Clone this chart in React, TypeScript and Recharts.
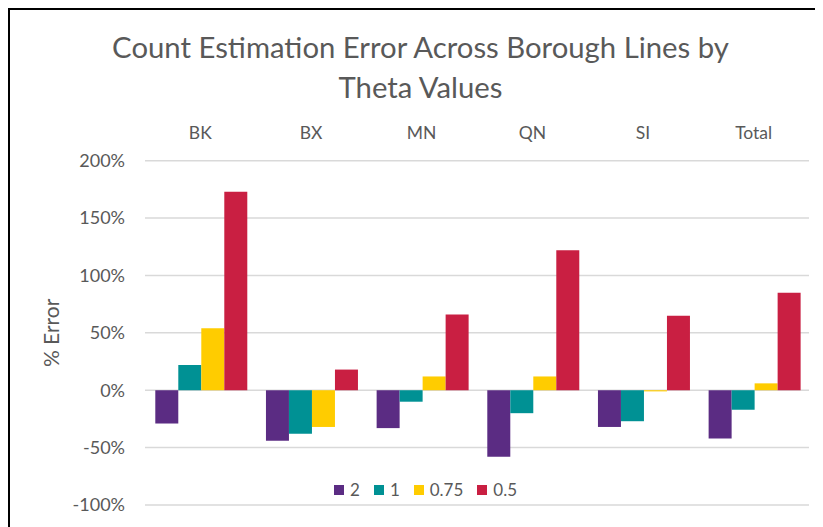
import React from 'react';
import { BarChart, Bar, XAxis, YAxis, CartesianGrid, Legend } from 'recharts';

const categories = ['BK', 'BX', 'MN', 'QN', 'SI', 'Total'];
const theta2 = [-29, -44, -33, -58, -32, -42];
const theta1 = [22, -38, -10, -20, -27, -17];
const theta075 = [54, -32, 12, 12, -1, 6];
const theta05 = [173, 18, 66, 122, 65, 85];
const yTicks = [-100, -50, 0, 50, 100, 150, 200];
const seriesKeys = ['t2', 't1', 't075', 't05'];
const seriesNames = ['2', '1', '0.75', '0.5'];
const seriesColors = ['#5B2C83', '#009194', '#FFCC00', '#C91F42'];

const data = categories.map((c, i) => ({
  name: c,
  t2: theta2[i],
  t1: theta1[i],
  t075: theta075[i],
  t05: theta05[i],
}));

const FONT = "Lato, 'Open Sans', sans-serif";
const TXT = '#595959';

const LegendContent = () => (
  <div style={{ display: 'flex', alignItems: 'center', fontFamily: FONT, fontSize: 17, color: TXT }}>
    {seriesNames.map((n, i) => (
      <div key={n} style={{ display: 'flex', alignItems: 'center', marginRight: 14 }}>
        <div style={{ width: 10, height: 10, background: seriesColors[i], marginRight: 6 }} />
        <span>{n}</span>
      </div>
    ))}
  </div>
);

export default function App() {
  return (
    <div style={{ position: 'relative', width: 815, height: 519, background: '#fff', fontFamily: FONT }}>
      <div style={{ position: 'absolute', left: 0, top: 0, width: 815, height: 2, background: '#000' }} />
      <div style={{ position: 'absolute', left: 0, top: 0, width: 2, height: 519, background: '#000' }} />
      <div
        style={{
          position: 'absolute',
          left: 5,
          top: 19,
          width: 815,
          textAlign: 'center',
          fontSize: 29.3,
          lineHeight: '40px',
          color: TXT,
          fontFamily: FONT,
        }}
      >
        Count Estimation Error Across Borough Lines by
        <br />
        Theta Values
      </div>
      <BarChart
        width={815}
        height={519}
        data={data}
        margin={{ top: 100, right: 14, bottom: 22, left: 0 }}
        barCategoryGap="9.3%"
        barGap={0}
      >
        <CartesianGrid vertical={false} stroke="#d9d9d9" strokeWidth={1.5} />
        <XAxis
          dataKey="name"
          orientation="top"
          height={52.7}
          axisLine={false}
          tickLine={false}
          tickSize={0}
          tickMargin={22}
          tick={{ fill: TXT, fontSize: 17.5, fontFamily: FONT }}
        />
        <YAxis
          width={137}
          domain={[-100, 200]}
          ticks={yTicks}
          interval={0}
          axisLine={false}
          tickLine={false}
          tickSize={0}
          tickMargin={20}
          tickFormatter={(v: number) => `${v}%`}
          tick={{ fill: TXT, fontSize: 18, fontFamily: FONT }}
          label={{
            value: '% Error',
            angle: -90,
            position: 'insideLeft',
            offset: 44,
            style: { fill: TXT, fontSize: 21, fontFamily: FONT, textAnchor: 'middle' },
          }}
        />
        <Legend
          layout="horizontal"
          verticalAlign="middle"
          align="center"
          content={<LegendContent />}
          wrapperStyle={{ position: 'absolute', top: 471, left: 326, width: 'auto', bottom: 'auto' }}
        />
        {seriesKeys.map((k, i) => (
          <Bar key={k} dataKey={k} name={seriesNames[i]} fill={seriesColors[i]} isAnimationActive={false} />
        ))}
      </BarChart>
    </div>
  );
}
